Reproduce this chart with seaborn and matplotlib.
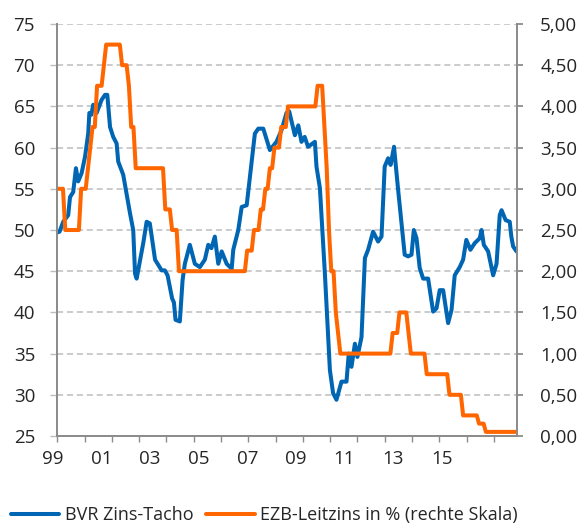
import numpy as np
import pandas as pd
import matplotlib
matplotlib.use('Agg')
import matplotlib.pyplot as plt
import seaborn as sns
from matplotlib.ticker import FuncFormatter, MultipleLocator, NullLocator

# BVR Zins-Tacho, vertices (months since Jan 1999)
tacho_month = [0, 1, 2.6, 4.8, 5.6, 7, 8.2, 9.2, 10.7, 12.2, 13.6, 14.1, 15, 15.8, 17.3, 19.5,
               21, 22, 23.2, 24.6, 26.1, 26.8, 29, 32, 33.4, 34.2, 34.9, 37.8, 39.3, 40.7, 43,
               45.9, 47.3, 48.5, 50.5, 51.3, 52, 53.9, 55.1, 56.1, 58.3, 60.5, 62.7, 64.9, 66.4,
               67.8, 69.3, 70.8, 72.3, 74.5, 76.7, 77.4, 79.6, 81.1, 83.3, 86.9, 88.4, 90.6, 93.5,
               96.4, 98.6, 100.8, 102, 104.5, 106, 107.4, 108.8, 110.3, 113.3, 114, 115.5, 117.7,
               119.9, 121.3, 122.8, 125, 127.2, 128.2, 129.4, 130.9, 132, 133.8, 135.3, 136.7,
               138.9, 141.1, 142.6, 144, 145.5, 146.6, 148.1, 149.9, 152.8, 154.3, 155.8, 156.8,
               158, 159.4, 160.9, 163.1, 165.3, 166.8, 168.2, 169.7, 171.9, 173.4, 174.8, 177,
               178.5, 179.9, 181.7, 183.6, 185.8, 186.6, 187.6, 189.5, 191.7, 193.2, 194.6, 195.4,
               197.2, 199, 199.7, 200.5, 202]
tacho_value = [49.7, 49.8, 51.0, 51.8, 54.0, 54.6, 57.5, 55.9, 56.9, 58.9, 61.7, 64.2, 64.0, 65.2, 64.2, 65.8,
               66.4, 66.4, 62.5, 61.3, 60.5, 58.3, 56.7, 52.0, 50.0, 44.7, 44.1, 48.4, 51.0, 50.8, 46.4,
               45.1, 45.1, 44.5, 41.7, 41.2, 39.1, 38.9, 43.9, 45.9, 48.2, 45.9, 45.5, 46.4, 48.2,
               47.8, 49.2, 45.9, 47.4, 45.9, 45.3, 47.6, 50.0, 52.8, 53.0, 61.7, 62.3, 62.3, 59.7,
               60.7, 62.1, 64.2, 64.4, 61.5, 62.7, 60.7, 61.3, 60.1, 60.7, 57.7, 55.1, 44.7,
               33.0, 30.2, 29.4, 31.6, 31.6, 35.0, 33.4, 36.2, 34.6, 37.0, 46.6, 47.6,
               49.8, 48.6, 49.2, 57.7, 58.7, 57.9, 60.1, 54.9, 47.0, 46.8, 47.0, 50.0,
               49.0, 45.4, 44.1, 44.1, 40.1, 40.5, 42.7, 42.7, 38.7, 40.3, 44.5, 45.5,
               46.4, 48.8, 47.6, 48.4, 49.0, 50.0, 48.2, 47.4, 44.5, 45.9, 51.8, 52.4,
               51.2, 51.0, 49.2, 48.0, 47.4]

# EZB-Leitzins in % (months since Jan 1999, monthly values at each step)
ezb_month = [0, 2, 3, 9, 10, 12, 13, 14, 15, 16, 17, 19, 20, 21, 27, 28, 30, 31, 32, 33, 34,
             46, 47, 49, 50, 52, 53, 82, 83, 85, 86, 88, 89, 90, 91, 92, 93, 94, 95, 97, 98,
             100, 101, 113, 114, 116, 117, 118, 119, 120, 121, 122, 123, 124, 146, 147, 149,
             150, 153, 154, 155, 161, 162, 171, 172, 177, 178, 184, 185, 187, 188, 201.5]
ezb_rate = [3.0, 3.0, 2.5, 2.5, 3.0, 3.0, 3.25, 3.5, 3.75, 3.75, 4.25, 4.25, 4.5, 4.75, 4.75, 4.5, 4.5,
            4.25, 3.75, 3.75, 3.25, 3.25, 2.75, 2.75, 2.5, 2.5, 2.0, 2.0, 2.25, 2.25, 2.5, 2.5, 2.75,
            2.75, 3.0, 3.0, 3.25, 3.25, 3.5, 3.5, 3.75, 3.75, 4.0, 4.0, 4.25, 4.25, 3.75, 3.25, 2.5,
            2.0, 2.0, 1.5, 1.25, 1.0, 1.0, 1.25, 1.25, 1.5, 1.5, 1.25, 1.0, 1.0, 0.75, 0.75, 0.5,
            0.5, 0.25, 0.25, 0.15, 0.15, 0.05, 0.05]

year_labels = ['99', '01', '03', '05', '07', '09', '11', '13', '15']

blue = '#0066b3'
orange = '#ff6600'
grey = '#8c8c8c'

tacho = pd.DataFrame({'jahr': 1999 + np.array(tacho_month) / 12, 'wert': tacho_value})
# monthly averages are drawn mid-month
ezb = pd.DataFrame({'jahr': 1999 + (np.array(ezb_month) + 0.5) / 12, 'zins': ezb_rate})

sns.set_style('white')
plt.rcParams['font.family'] = ['Open Sans', 'DejaVu Sans']

fig = plt.figure(figsize=(5.87, 5.25), dpi=100)
ax = fig.add_axes([0.0976, 0.1695, 0.7824, 0.7848])
ax2 = ax.twinx()

sns.lineplot(data=tacho, x='jahr', y='wert', ax=ax, color=blue, linewidth=2.9,
             estimator=None, sort=False, legend=False, label='BVR Zins-Tacho')
sns.lineplot(data=ezb, x='jahr', y='zins', ax=ax2, color=orange, linewidth=2.9,
             estimator=None, sort=False, legend=False, label='EZB-Leitzins in % (rechte Skala)')

ax.set_xlim(1999, 1999 + 202 / 12)
ax.set_ylim(25, 75)
ax2.set_ylim(0, 5)
ax.set_yticks(np.arange(25, 76, 5))
ax2.set_yticks(np.arange(0, 5.01, 0.5))
ax2.yaxis.set_major_formatter(FuncFormatter(lambda v, _: f'{v:.2f}'.replace('.', ',')))

# yearly tick marks; the year labels sit a bit left of them, as in the original
ax.xaxis.set_major_locator(NullLocator())
ax.xaxis.set_minor_locator(MultipleLocator(1))
label_pos = np.linspace(1998.84, 2013.09, len(year_labels))
for pos, lab in zip(label_pos, year_labels):
    ax.annotate(lab, (pos, 0), xycoords=ax.get_xaxis_transform(), xytext=(0, -10),
                textcoords='offset points', ha='center', va='top', fontsize=13.5,
                annotation_clip=False)

ax.grid(axis='y', color='#bdbdbd', linestyle=(0, (4, 2.5)), linewidth=1.1)
ax.grid(axis='x', visible=False)
ax2.grid(False)
ax.set_axisbelow(True)

for a in (ax, ax2):
    a.set_xlabel('')
    a.set_ylabel('')
    a.spines['top'].set_visible(False)
    for s in ('left', 'right', 'bottom'):
        a.spines[s].set_color(grey)
        a.spines[s].set_linewidth(1.3)

ax.tick_params(axis='y', left=True, length=5, width=1, color='#bdbdbd', pad=11, labelsize=13.5)
ax2.tick_params(axis='y', right=True, length=4, width=1.3, color=grey, pad=13, labelsize=13.5)
ax.tick_params(axis='x', which='minor', bottom=True, length=4, width=1, color=grey)

handles = ax.get_lines()[:1] + ax2.get_lines()[:1]
fig.legend(handles, [h.get_label() for h in handles], loc='center left',
           bbox_to_anchor=(0.018, 0.019), ncol=2, frameon=False, fontsize=13,
           handlelength=2.7, handletextpad=0.3, columnspacing=0.7, borderpad=0, borderaxespad=0)

plt.savefig('out.png', dpi=100)
